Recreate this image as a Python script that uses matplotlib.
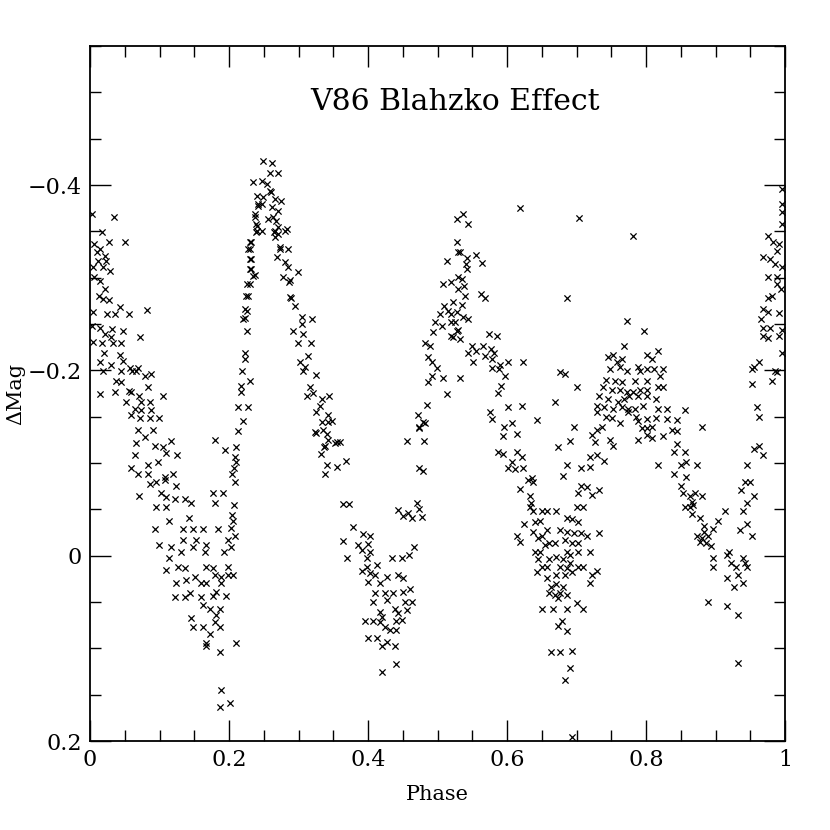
import numpy as np
import matplotlib
matplotlib.use("Agg")
import matplotlib.pyplot as plt
from matplotlib.ticker import MultipleLocator, FuncFormatter

# Points, (phase, delta mag), one list per stretch of the curve

# phase 0 - 0.2, first decline
fall_a = [
    (0.003, -0.369), (0.035, -0.366), (0.017, -0.349), (0.027, -0.338), (0.050, -0.339),
    (0.006, -0.336), (0.014, -0.331), (0.010, -0.328), (0.022, -0.323), (0.012, -0.318),
    (0.023, -0.318), (0.004, -0.312), (0.019, -0.311), (0.029, -0.307), (0.006, -0.301),
    (0.014, -0.296), (0.022, -0.288), (0.013, -0.280), (0.019, -0.277), (0.027, -0.276),
    (0.004, -0.263), (0.024, -0.261), (0.036, -0.261), (0.043, -0.268), (0.056, -0.261),
    (0.082, -0.265), (0.003, -0.248), (0.014, -0.246), (0.032, -0.245), (0.047, -0.242),
    (0.022, -0.239), (0.030, -0.236), (0.072, -0.236), (0.004, -0.231), (0.017, -0.229),
    (0.033, -0.229), (0.045, -0.229), (0.020, -0.219), (0.043, -0.217), (0.014, -0.209),
    (0.030, -0.206), (0.047, -0.210), (0.019, -0.199), (0.045, -0.199), (0.058, -0.203),
    (0.069, -0.203), (0.066, -0.199), (0.060, -0.199), (0.079, -0.194), (0.088, -0.196),
    (0.037, -0.188), (0.045, -0.187), (0.014, -0.175), (0.036, -0.177), (0.056, -0.178),
    (0.059, -0.177), (0.083, -0.182), (0.070, -0.172), (0.105, -0.172), (0.052, -0.166),
    (0.073, -0.166), (0.086, -0.166), (0.065, -0.158), (0.073, -0.157), (0.088, -0.157),
    (0.059, -0.152), (0.072, -0.149), (0.086, -0.149), (0.099, -0.149), (0.069, -0.136),
    (0.091, -0.136), (0.079, -0.128), (0.066, -0.122), (0.116, -0.124), (0.093, -0.118),
    (0.105, -0.117), (0.065, -0.109), (0.109, -0.111), (0.125, -0.109), (0.083, -0.098),
    (0.098, -0.101), (0.059, -0.095), (0.069, -0.088), (0.108, -0.085), (0.119, -0.088),
    (0.083, -0.088), (0.086, -0.077), (0.095, -0.079), (0.108, -0.082), (0.124, -0.075),
]

# phase 0.06 - 0.23, bottom of the first minimum
trough_a = [
    (0.070, -0.064), (0.102, -0.068), (0.109, -0.063), (0.095, -0.053), (0.109, -0.053),
    (0.122, -0.061), (0.137, -0.061), (0.145, -0.057), (0.177, -0.068), (0.191, -0.068),
    (0.180, -0.057), (0.114, -0.037), (0.142, -0.041), (0.093, -0.029), (0.134, -0.029),
    (0.148, -0.029), (0.162, -0.029), (0.184, -0.029), (0.099, -0.012), (0.134, -0.017),
    (0.152, -0.017), (0.116, -0.009), (0.131, -0.004), (0.148, -0.009), (0.167, -0.012),
    (0.165, -0.004), (0.114, 0.003), (0.109, 0.015), (0.127, 0.012), (0.137, 0.013),
    (0.167, 0.012), (0.177, 0.013), (0.180, 0.021), (0.124, 0.029), (0.138, 0.026),
    (0.151, 0.023), (0.160, 0.029), (0.167, 0.029), (0.188, 0.029), (0.144, 0.040),
    (0.122, 0.045), (0.137, 0.045), (0.160, 0.045), (0.177, 0.044), (0.181, 0.039),
    (0.196, 0.044), (0.162, 0.053), (0.173, 0.058), (0.187, 0.058), (0.181, 0.064),
    (0.145, 0.067), (0.148, 0.077), (0.162, 0.077), (0.180, 0.072), (0.187, 0.077),
    (0.173, 0.084), (0.167, 0.094), (0.167, 0.098), (0.187, 0.104), (0.210, 0.094),
    (0.188, 0.145), (0.187, 0.163), (0.201, 0.159),
]

# phase 0.19 - 0.25, steep rise
rise_a = [
    (0.210, -0.101), (0.207, -0.095), (0.204, -0.088), (0.208, -0.080), (0.207, -0.055),
    (0.204, -0.044), (0.206, -0.037), (0.203, -0.030), (0.208, -0.021), (0.198, -0.017),
    (0.203, -0.009), (0.193, -0.004), (0.198, 0.012), (0.206, 0.021), (0.198, 0.021),
    (0.188, 0.023), (0.242, -0.379), (0.237, -0.369), (0.239, -0.358), (0.239, -0.349),
    (0.231, -0.338), (0.230, -0.331), (0.231, -0.320), (0.231, -0.309), (0.237, -0.303),
    (0.230, -0.293), (0.224, -0.280), (0.226, -0.264), (0.223, -0.257), (0.226, -0.242),
    (0.223, -0.219), (0.223, -0.212), (0.219, -0.199), (0.230, -0.188), (0.217, -0.183),
    (0.217, -0.177), (0.213, -0.160), (0.227, -0.160), (0.220, -0.145), (0.213, -0.134),
    (0.180, -0.125), (0.194, -0.114), (0.210, -0.117), (0.208, -0.107),
]

# phase 0.23 - 0.30, first maximum
peak_a = [
    (0.249, -0.426), (0.262, -0.424), (0.259, -0.413), (0.270, -0.413), (0.234, -0.403),
    (0.247, -0.404), (0.254, -0.401), (0.259, -0.394), (0.240, -0.388), (0.249, -0.387),
    (0.260, -0.392), (0.266, -0.385), (0.275, -0.383), (0.247, -0.379), (0.262, -0.376),
    (0.270, -0.372), (0.242, -0.377), (0.237, -0.366), (0.263, -0.366), (0.256, -0.363),
    (0.267, -0.361), (0.270, -0.355), (0.283, -0.352), (0.240, -0.356), (0.240, -0.350),
    (0.247, -0.350), (0.265, -0.349), (0.266, -0.350), (0.280, -0.350), (0.270, -0.347),
    (0.266, -0.344), (0.230, -0.339), (0.227, -0.331), (0.273, -0.333), (0.285, -0.331),
    (0.273, -0.331), (0.269, -0.322), (0.230, -0.320), (0.280, -0.317), (0.285, -0.311),
    (0.230, -0.309), (0.299, -0.306), (0.277, -0.301), (0.288, -0.298), (0.286, -0.295),
    (0.234, -0.302), (0.226, -0.293), (0.227, -0.280), (0.288, -0.279), (0.289, -0.278),
    (0.223, -0.266), (0.220, -0.255),
]

# phase 0.29 - 0.37, second decline
fall_b = [
    (0.295, -0.269), (0.305, -0.258), (0.319, -0.255), (0.305, -0.250), (0.292, -0.242),
    (0.306, -0.239), (0.299, -0.230), (0.318, -0.229), (0.313, -0.215), (0.302, -0.209),
    (0.309, -0.204), (0.306, -0.199), (0.325, -0.195), (0.316, -0.182), (0.321, -0.176),
    (0.312, -0.172), (0.334, -0.169), (0.344, -0.172), (0.331, -0.161), (0.325, -0.155),
    (0.342, -0.152), (0.334, -0.144), (0.348, -0.145), (0.342, -0.144), (0.324, -0.133),
    (0.325, -0.132), (0.341, -0.131), (0.335, -0.136), (0.342, -0.125), (0.359, -0.123),
    (0.355, -0.123), (0.338, -0.118), (0.352, -0.122), (0.336, -0.117), (0.332, -0.110),
    (0.341, -0.098), (0.355, -0.096), (0.368, -0.102), (0.338, -0.088),
]

# phase 0.36 - 0.47, second minimum
trough_b = [
    (0.364, -0.056), (0.372, -0.056), (0.378, -0.031), (0.364, -0.016), (0.393, -0.023),
    (0.403, -0.021), (0.385, -0.012), (0.400, -0.013), (0.391, -0.006), (0.403, -0.004),
    (0.370, 0.003), (0.398, 0.002), (0.434, 0.003), (0.449, 0.003), (0.459, -0.001),
    (0.466, -0.009), (0.398, 0.012), (0.413, 0.010), (0.391, 0.017), (0.403, 0.019),
    (0.410, 0.021), (0.428, 0.023), (0.443, 0.021), (0.450, 0.024), (0.400, 0.028),
    (0.417, 0.029), (0.410, 0.040), (0.424, 0.040), (0.436, 0.040), (0.450, 0.039),
    (0.460, 0.036), (0.407, 0.050), (0.428, 0.048), (0.453, 0.050), (0.463, 0.050),
    (0.417, 0.061), (0.439, 0.058), (0.456, 0.059), (0.420, 0.066), (0.443, 0.062),
    (0.395, 0.071), (0.407, 0.071), (0.417, 0.072), (0.424, 0.077), (0.441, 0.071),
    (0.449, 0.069), (0.431, 0.080), (0.441, 0.080), (0.400, 0.089), (0.413, 0.089),
    (0.420, 0.098), (0.428, 0.093), (0.439, 0.098), (0.441, 0.117), (0.420, 0.125),
]

# phase 0.44 - 0.53, second rise
rise_b = [
    (0.474, -0.139), (0.482, -0.143), (0.456, -0.124), (0.480, -0.124), (0.474, -0.095),
    (0.479, -0.091), (0.470, -0.057), (0.443, -0.049), (0.450, -0.043), (0.457, -0.046),
    (0.464, -0.041), (0.473, -0.050), (0.477, -0.042), (0.528, -0.363), (0.528, -0.339),
    (0.529, -0.328), (0.513, -0.318), (0.508, -0.293), (0.519, -0.295), (0.529, -0.301),
    (0.529, -0.288), (0.522, -0.274), (0.510, -0.269), (0.503, -0.261), (0.515, -0.264),
    (0.528, -0.263), (0.496, -0.252), (0.506, -0.248), (0.520, -0.252), (0.528, -0.242),
    (0.493, -0.241), (0.522, -0.236), (0.482, -0.230), (0.489, -0.226), (0.486, -0.214),
    (0.492, -0.209), (0.499, -0.203), (0.508, -0.192), (0.492, -0.194), (0.486, -0.187),
    (0.513, -0.174), (0.485, -0.163), (0.472, -0.152), (0.479, -0.144), (0.474, -0.138),
]

# phase 0.52 - 0.64, second maximum and its decline
fall_c = [
    (0.536, -0.369), (0.544, -0.358), (0.618, -0.375), (0.703, -0.364), (0.687, -0.278),
    (0.533, -0.328), (0.542, -0.321), (0.556, -0.324), (0.564, -0.316), (0.541, -0.315),
    (0.542, -0.309), (0.535, -0.299), (0.538, -0.291), (0.539, -0.280), (0.562, -0.282),
    (0.568, -0.278), (0.535, -0.270), (0.520, -0.261), (0.536, -0.258), (0.544, -0.255),
    (0.525, -0.252), (0.529, -0.244), (0.520, -0.237), (0.532, -0.234), (0.574, -0.239),
    (0.585, -0.237), (0.549, -0.226), (0.555, -0.221), (0.544, -0.219), (0.566, -0.226),
    (0.577, -0.223), (0.582, -0.219), (0.569, -0.215), (0.579, -0.212), (0.551, -0.209),
    (0.590, -0.206), (0.601, -0.209), (0.623, -0.209), (0.578, -0.203), (0.588, -0.201),
    (0.597, -0.194), (0.533, -0.192), (0.676, -0.198), (0.683, -0.196), (0.592, -0.183),
    (0.700, -0.182), (0.587, -0.176), (0.601, -0.160), (0.621, -0.161), (0.669, -0.166),
    (0.575, -0.155), (0.578, -0.147), (0.595, -0.139), (0.607, -0.143), (0.615, -0.131),
    (0.594, -0.129), (0.643, -0.146), (0.697, -0.139), (0.587, -0.112), (0.594, -0.110),
    (0.614, -0.112), (0.621, -0.106), (0.607, -0.101), (0.601, -0.095), (0.611, -0.093),
    (0.623, -0.095), (0.636, -0.084), (0.630, -0.082), (0.637, -0.080), (0.618, -0.072),
    (0.633, -0.064), (0.634, -0.057),
]

# phase 0.61 - 0.74, third minimum
trough_c = [
    (0.674, -0.117), (0.690, -0.124), (0.687, -0.098), (0.680, -0.086), (0.707, -0.095),
    (0.719, -0.096), (0.707, -0.075), (0.715, -0.074), (0.702, -0.068), (0.723, -0.066),
    (0.733, -0.071), (0.700, -0.053), (0.709, -0.053), (0.633, -0.052), (0.637, -0.048),
    (0.650, -0.048), (0.657, -0.048), (0.671, -0.048), (0.625, -0.034), (0.640, -0.036),
    (0.647, -0.037), (0.686, -0.041), (0.694, -0.040), (0.702, -0.036), (0.637, -0.026),
    (0.657, -0.028), (0.676, -0.028), (0.687, -0.026), (0.697, -0.025), (0.707, -0.025),
    (0.715, -0.021), (0.733, -0.025), (0.615, -0.021), (0.618, -0.015), (0.644, -0.019),
    (0.651, -0.021), (0.661, -0.014), (0.654, -0.012), (0.669, -0.014), (0.683, -0.017),
    (0.693, -0.014), (0.702, -0.014), (0.640, -0.004), (0.647, -0.004), (0.671, 0.001),
    (0.686, -0.004), (0.690, -0.001), (0.702, -0.004), (0.719, -0.004), (0.644, 0.004),
    (0.661, 0.004), (0.680, 0.004), (0.690, 0.008), (0.651, 0.012), (0.658, 0.012),
    (0.676, 0.012), (0.686, 0.013), (0.702, 0.012), (0.709, 0.012), (0.643, 0.018),
    (0.657, 0.024), (0.671, 0.021), (0.683, 0.021), (0.693, 0.018), (0.722, 0.021),
    (0.730, 0.017), (0.719, 0.029), (0.664, 0.034), (0.671, 0.031), (0.680, 0.034),
    (0.661, 0.040), (0.669, 0.042), (0.676, 0.040), (0.687, 0.042), (0.673, 0.046),
    (0.700, 0.051), (0.651, 0.058), (0.666, 0.058), (0.686, 0.058), (0.709, 0.058),
    (0.679, 0.071), (0.673, 0.076), (0.686, 0.081), (0.664, 0.104), (0.676, 0.104),
    (0.694, 0.103), (0.691, 0.121), (0.683, 0.134), (0.694, 0.196),
]

# phase 0.72 - 0.86, third maximum
peak_c = [
    (0.729, -0.109), (0.719, -0.107), (0.740, -0.102), (0.726, -0.123), (0.723, -0.130),
    (0.729, -0.136), (0.736, -0.139), (0.748, -0.125), (0.752, -0.118), (0.762, -0.143),
    (0.781, -0.345), (0.769, -0.226), (0.772, -0.253), (0.797, -0.242), (0.752, -0.217),
    (0.745, -0.214), (0.758, -0.209), (0.766, -0.212), (0.748, -0.201), (0.762, -0.204),
    (0.772, -0.199), (0.743, -0.190), (0.755, -0.188), (0.766, -0.187), (0.738, -0.182),
    (0.751, -0.179), (0.762, -0.179), (0.772, -0.177), (0.733, -0.172), (0.745, -0.169),
    (0.759, -0.166), (0.769, -0.169), (0.729, -0.161), (0.740, -0.160), (0.752, -0.158),
    (0.766, -0.160), (0.730, -0.155), (0.743, -0.150), (0.751, -0.149), (0.774, -0.155),
    (0.784, -0.188), (0.788, -0.204), (0.791, -0.199), (0.801, -0.201), (0.811, -0.201),
    (0.824, -0.201), (0.802, -0.217), (0.808, -0.212), (0.817, -0.221), (0.802, -0.188),
    (0.817, -0.182), (0.824, -0.182), (0.820, -0.194), (0.781, -0.177), (0.791, -0.179),
    (0.801, -0.179), (0.776, -0.172), (0.788, -0.172), (0.801, -0.172), (0.815, -0.169),
    (0.774, -0.158), (0.784, -0.158), (0.795, -0.161), (0.817, -0.158), (0.830, -0.158),
    (0.856, -0.157), (0.786, -0.150), (0.788, -0.145), (0.802, -0.147), (0.815, -0.149),
    (0.830, -0.147), (0.844, -0.146), (0.794, -0.138), (0.802, -0.138), (0.809, -0.139),
    (0.824, -0.129), (0.837, -0.136), (0.845, -0.135), (0.880, -0.139), (0.788, -0.125),
    (0.801, -0.130), (0.808, -0.127), (0.845, -0.120), (0.840, -0.112), (0.856, -0.112),
]

# phase 0.81 - 0.95, fourth decline and minimum
fall_d = [
    (0.817, -0.098), (0.851, -0.098), (0.858, -0.101), (0.874, -0.098), (0.841, -0.088),
    (0.858, -0.085), (0.851, -0.075), (0.853, -0.068), (0.870, -0.068), (0.863, -0.064),
    (0.880, -0.064), (0.866, -0.058), (0.856, -0.053), (0.863, -0.053), (0.867, -0.055),
    (0.866, -0.045), (0.877, -0.041), (0.884, -0.032), (0.896, -0.029), (0.903, -0.037),
    (0.884, -0.026), (0.873, -0.021), (0.881, -0.019), (0.889, -0.021), (0.877, -0.015),
    (0.887, -0.014), (0.894, -0.010), (0.896, 0.003), (0.896, 0.012), (0.920, -0.004),
    (0.917, -0.001), (0.923, 0.008), (0.929, 0.012), (0.939, 0.003), (0.942, 0.008),
    (0.945, 0.012), (0.933, 0.021), (0.917, 0.024), (0.926, 0.034), (0.940, 0.029),
    (0.889, 0.050), (0.916, 0.054), (0.932, 0.064), (0.932, 0.116),
]

# phase 0.91 - 1.0, final rise
rise_d = [
    (0.913, -0.048), (0.935, -0.028), (0.945, -0.034), (0.952, -0.021), (0.939, -0.048),
    (0.946, -0.057), (0.956, -0.064), (0.936, -0.071), (0.942, -0.080), (0.949, -0.080),
    (0.956, -0.115), (0.963, -0.118), (0.968, -0.109), (0.946, -0.098), (0.960, -0.160),
    (0.963, -0.150), (0.955, -0.204), (0.962, -0.209), (0.952, -0.201), (0.985, -0.199),
    (0.989, -0.198), (0.981, -0.188), (0.953, -0.185), (0.996, -0.219), (0.968, -0.237),
    (0.975, -0.235), (0.992, -0.237), (0.968, -0.246), (0.978, -0.246), (0.995, -0.244),
    (0.966, -0.255), (0.968, -0.266), (0.975, -0.263), (0.992, -0.262), (0.981, -0.280),
    (0.975, -0.278), (0.975, -0.301), (0.989, -0.301), (0.989, -0.293), (0.994, -0.288),
    (0.968, -0.322), (0.978, -0.320), (0.985, -0.315), (0.995, -0.312), (0.975, -0.345),
    (0.983, -0.339), (0.992, -0.336), (0.989, -0.329), (0.995, -0.358), (0.995, -0.371),
    (0.995, -0.379), (0.996, -0.396),
]

segments = [fall_a, trough_a, rise_a, peak_a, fall_b, trough_b, rise_b,
            fall_c, trough_c, peak_c, fall_d, rise_d]
pts = np.array([p for seg in segments for p in seg])
phase = pts[:, 0]
dmag = pts[:, 1]

plt.rcParams['font.family'] = "DejaVu Serif"

fig = plt.figure(figsize=(8.3, 8.3), dpi=100)
ax = fig.add_axes([90 / 830, 1 - 741 / 830, 695 / 830, 695 / 830])

ax.scatter(phase, dmag, marker='x', s=20, c='black', linewidths=0.9)

ax.set_xlim(0, 1)
ax.set_ylim(0.2, -0.55)

ax.xaxis.set_major_locator(MultipleLocator(0.2))
ax.xaxis.set_minor_locator(MultipleLocator(0.05))
ax.yaxis.set_major_locator(MultipleLocator(0.2))
ax.yaxis.set_minor_locator(MultipleLocator(0.05))

fmt = FuncFormatter(lambda v, pos: f"{v:g}".replace('-', '\u2212'))
ax.xaxis.set_major_formatter(fmt)
ax.yaxis.set_major_formatter(fmt)

ax.tick_params(which='both', direction='in', top=True, right=True, width=1.0,
               labelsize=16)
ax.tick_params(which='major', length=15, pad=6)
ax.tick_params(which='minor', length=8)
for s in ax.spines.values():
    s.set_linewidth(1.3)

ax.text(0.525, 0.92, "V86 Blahzko Effect", transform=ax.transAxes,
        ha='center', va='center', fontsize=21.5)
ax.set_xlabel("Phase", fontsize=15, labelpad=10)
ax.set_ylabel("\u0394Mag", fontsize=15, labelpad=2)

fig.savefig("out.png", dpi=100)
